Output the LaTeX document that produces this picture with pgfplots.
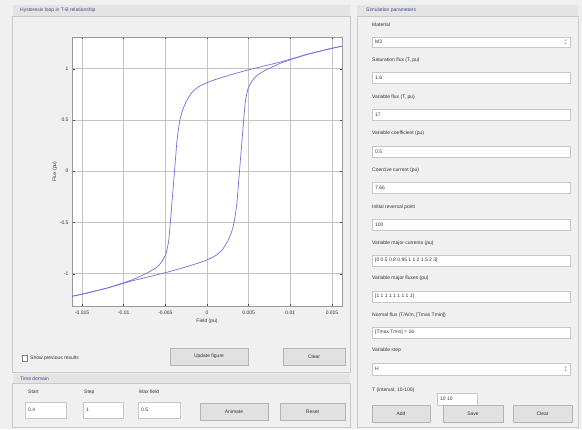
\documentclass[border=0pt]{standalone}
\usepackage{pgfplots}
\pgfplotsset{compat=1.18}
\usepackage{fontspec}
\setmainfont{Liberation Sans}
\definecolor{bg}{HTML}{F0F0F0}
\definecolor{curve}{HTML}{7070E0}
\definecolor{grd}{HTML}{C4C4C4}
\definecolor{frm}{HTML}{C8C8C8}
\definecolor{btn}{HTML}{E1E1E1}
\definecolor{btnb}{HTML}{B4B4B4}
\definecolor{ttl}{HTML}{3C4A8C}
\definecolor{band}{HTML}{E4E4E4}
\definecolor{txt}{HTML}{333333}

\pgfplotstableread{
x y
0.0162 1.22
0.015 1.20
0.012 1.14
0.009 1.07
0.007 1.03
0.005 0.99
0.003 0.945
0.001 0.895
0.000 0.865
-0.001 0.825
-0.0018 0.77
-0.0025 0.68
-0.003 0.58
-0.0033 0.48
-0.0036 0.30
-0.0038 0.10
-0.0040 -0.10
-0.0042 -0.30
-0.0044 -0.50
-0.0046 -0.68
-0.0049 -0.80
-0.0054 -0.88
-0.006 -0.935
-0.007 -0.985
-0.009 -1.06
-0.012 -1.14
-0.015 -1.20
-0.0162 -1.22
}\descending

\pgfplotstableread{
x y
-0.0162 -1.22
-0.015 -1.20
-0.012 -1.14
-0.009 -1.07
-0.007 -1.03
-0.005 -0.99
-0.003 -0.945
-0.001 -0.895
0.000 -0.865
0.001 -0.825
0.0018 -0.77
0.0025 -0.68
0.003 -0.58
0.0033 -0.48
0.0036 -0.30
0.0038 -0.10
0.0040 0.10
0.0042 0.30
0.0044 0.50
0.0046 0.68
0.0049 0.80
0.0054 0.88
0.006 0.935
0.007 0.985
0.009 1.06
0.012 1.14
0.015 1.20
0.0162 1.22
}\ascending

\begin{document}
\begin{tikzpicture}[x=1bp,y=1bp,font=\fontsize{5}{6}\selectfont,
  tbox/.style={fill=white,draw=frm,line width=0.4pt},
  bbox/.style={fill=btn,draw=btnb,line width=0.4pt},
  lab/.style={anchor=west,inner sep=0pt,text=txt}]
\fill[bg] (0,0) rectangle (582,429);

% ---------- left panel ----------
\fill[band] (12.5,413) rectangle (350,424);
\draw[frm,line width=0.5pt] (12.5,57) rectangle (350,413);
\node[lab,text=ttl] at (20,418.5) {Hysteresis loop in T-B relationship};

% checkbox + buttons
\draw[fill=white,draw=gray] (22,68) rectangle (27,74);
\node[lab] at (30,71) {Show previous results};
\draw[bbox] (170,64) rectangle (248,81);
\node[text=txt] at (209,72.5) {Update figure};
\draw[bbox] (283,64) rectangle (345,81);
\node[text=txt] at (314,72.5) {Clear};

% ---------- bottom panel ----------
\fill[band] (12.5,46) rectangle (350,55);
\draw[frm,line width=0.5pt] (12.5,1.5) rectangle (350,46);
\node[lab,text=ttl] at (20,50.5) {Time domain};
\node[lab] at (28,37) {Start};
\node[lab] at (84,37) {Step};
\node[lab] at (139,37) {Max field};
\draw[tbox] (25,11) rectangle (66,27);   \node[lab] at (28,19) {0.4};
\draw[tbox] (83,11) rectangle (123,27);  \node[lab] at (86,19) {1};
\draw[tbox] (138,11) rectangle (180,27); \node[lab] at (141,19) {0.5};
\draw[bbox] (200,9) rectangle (268,26);  \node[text=txt] at (234,17.5) {Animate};
\draw[bbox] (280,9) rectangle (345,26);  \node[text=txt] at (312.5,17.5) {Reset};

% ---------- right panel ----------
\fill[band] (357,413) rectangle (578,424);
\draw[frm,line width=0.5pt] (357,1.5) rectangle (578,413);
\node[lab,text=ttl] at (366,418.5) {Simulation parameters};

\node[lab] at (372,404) {Material};
\draw[tbox] (372,382) rectangle (570,392); \node[lab] at (375,387) {M3};
\node[anchor=east,inner sep=0pt,text=gray] at (568,387) {$\updownarrow$};

\node[lab] at (372,369) {Saturation flux (T, pu)};
\draw[tbox] (372,346) rectangle (570,357); \node[lab] at (375,351.5) {1.6};

\node[lab] at (372,332) {Variable flux (T, pu)};
\draw[tbox] (372,309) rectangle (570,320); \node[lab] at (375,314.5) {17};

\node[lab] at (372,296) {Variable coefficient (pu)};
\draw[tbox] (372,272) rectangle (570,283); \node[lab] at (375,277.5) {0.5};

\node[lab] at (372,259) {Coercive current (pu)};
\draw[tbox] (372,236) rectangle (570,247); \node[lab] at (375,241.5) {7.66};

\node[lab] at (372,222) {Initial reversal point};
\draw[tbox] (372,199) rectangle (570,210); \node[lab] at (375,204.5) {100};

\node[lab] at (372,186) {Variable major currents (pu)};
\draw[tbox] (372,163) rectangle (570,174); \node[lab] at (375,168.5) {[0 0.5 0.8 0.95 1 1.2 1.5 2 3]};

\node[lab] at (372,151) {Variable major fluxes (pu)};
\draw[tbox] (372,127) rectangle (570,138); \node[lab] at (375,132.5) {[1 1 1 1 1 1 1 1 1]};

\node[lab] at (372,114) {Normal flux (T/A/m, [Tmax Tmin])};
\draw[tbox] (372,91) rectangle (570,102); \node[lab] at (375,96.5) {[Tmax Tmin] = 16};

\node[lab] at (372,79) {Variable step};
\draw[tbox] (372,54) rectangle (570,66); \node[lab] at (375,60) {H};
\node[anchor=east,inner sep=0pt,text=gray] at (568,60) {$\updownarrow$};

\node[lab] at (372,39) {T (interval, 10-100)};
\draw[tbox] (437,24) rectangle (477,36); \node[lab] at (440,30) {10 10};

\draw[bbox] (372,7) rectangle (430,24); \node[text=txt] at (401,15.5) {Add};
\draw[bbox] (443,7) rectangle (503,24); \node[text=txt] at (473,15.5) {Save};
\draw[bbox] (513,7) rectangle (572,24); \node[text=txt] at (542.5,15.5) {Clear};

% ---------- chart ----------
\begin{axis}[
  at={(72bp,123bp)}, anchor=south west,
  width=270bp, height=269bp, scale only axis,
  xmin=-0.0162, xmax=0.0162, ymin=-1.315, ymax=1.31,
  axis background/.style={fill=white},
  axis line style={draw=gray!80,line width=0.5pt},
  grid=major, major grid style={grd,line width=1pt},
  tick align=inside, major tick length=2.5bp,
  tick style={gray!60!black,line width=0.4pt},
  scaled x ticks=false, scaled y ticks=false,
  xtick={-0.015,-0.01,-0.005,0,0.005,0.01,0.015},
  xticklabels={-0.015,-0.01,-0.005,0,0.005,0.01,0.015},
  ytick={-1,-0.5,0,0.5,1},
  yticklabels={-1,-0.5,0,0.5,1},
  ticklabel style={font=\fontsize{5}{6}\selectfont,text=txt},
  xticklabel style={yshift=-1bp},
  xlabel={Field (pu)}, ylabel={Flux (pu)},
  label style={font=\fontsize{5}{6}\selectfont,text=txt},
  xlabel style={yshift=2bp},
  ylabel style={yshift=-4bp},
]
\addplot[curve,line width=0.7pt,smooth,tension=0.3] table[x=x,y=y] {\descending};
\addplot[curve,line width=0.7pt,smooth,tension=0.3] table[x=x,y=y] {\ascending};
\end{axis}
\end{tikzpicture}
\end{document}
